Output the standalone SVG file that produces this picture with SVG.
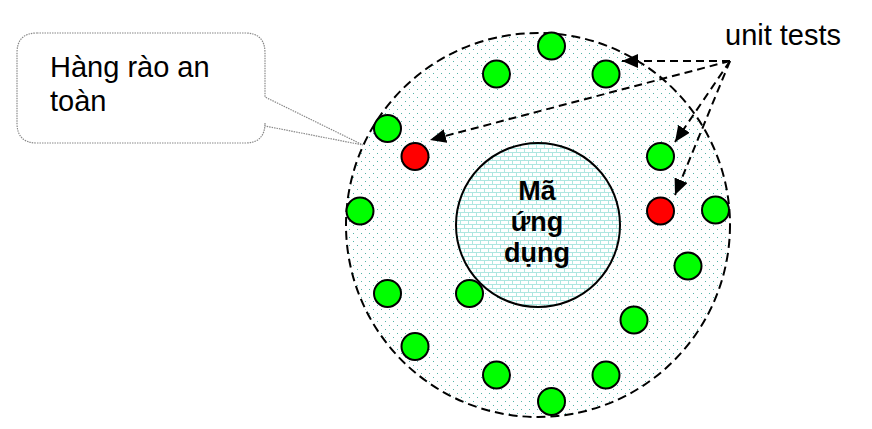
<svg xmlns="http://www.w3.org/2000/svg" width="872" height="429" viewBox="0 0 872 429">
<defs>
<pattern id="dots" width="8" height="8" patternUnits="userSpaceOnUse">
<rect width="8" height="8" fill="#ffffff"/>
<rect x="1" y="1" width="1" height="1" fill="#55b3a8"/>
<rect x="5" y="5" width="1" height="1" fill="#55b3a8"/>
</pattern>
<pattern id="bricks" width="8" height="8" patternUnits="userSpaceOnUse">
<rect width="8" height="8" fill="#ffffff"/>
<path d="M0 0.5H8M0 4.5H8M0.5 0.5V4.5M4.5 4.5V8" stroke="#aee6e0" stroke-width="1" fill="none"/>
</pattern>
<marker id="ah2" viewBox="0 0 10 10" refX="10" refY="5" markerWidth="16" markerHeight="14" markerUnits="userSpaceOnUse" orient="auto" preserveAspectRatio="none">
<path d="M0 0L10 5L0 10Z" fill="#000"/>
</marker>
</defs>
<style>
.t{stroke:#000;stroke-width:2}
.g{fill:#00ff00}
.r{fill:#ff0000}
.lbl{font-family:"Liberation Sans",Arial,sans-serif;font-size:29px;fill:#000}
.in{font-family:"Liberation Sans",Arial,sans-serif;font-size:27px;font-weight:bold;fill:#000;text-anchor:middle}
.conn{stroke:#000;stroke-width:2;stroke-dasharray:8 5;fill:none}
</style>
<rect width="872" height="429" fill="#fff"/>
<g id="fence">
<circle cx="538" cy="225" r="192" fill="url(#dots)" stroke="#000" stroke-width="2" stroke-dasharray="9 5"/>
</g>
<g id="app-code">
<circle cx="538" cy="225" r="82" fill="url(#bricks)" stroke="#000" stroke-width="2"/>
<text class="in" x="537" y="200">Mã</text>
<text class="in" x="537" y="231">ứng</text>
<text class="in" x="537" y="262">dụng</text>
</g>
<g id="tests">
<circle class="t g" cx="551.5" cy="46" r="13.5"/>
<circle class="t g" cx="496.5" cy="74" r="13.5"/>
<circle class="t g" cx="606" cy="74" r="13.5"/>
<circle class="t g" cx="387.5" cy="128.5" r="13.5"/>
<circle class="t r" cx="415" cy="156.5" r="13.5"/>
<circle class="t g" cx="660.5" cy="156.5" r="13.5"/>
<circle class="t g" cx="360" cy="211" r="13.5"/>
<circle class="t r" cx="660.5" cy="211" r="13.5"/>
<circle class="t g" cx="715.5" cy="210" r="13.5"/>
<circle class="t g" cx="688" cy="266" r="13.5"/>
<circle class="t g" cx="387.5" cy="293.5" r="13.5"/>
<circle class="t g" cx="469.5" cy="293.5" r="13.5"/>
<circle class="t g" cx="634" cy="320" r="13.5"/>
<circle class="t g" cx="415" cy="346.5" r="13.5"/>
<circle class="t g" cx="496.5" cy="375" r="13.5"/>
<circle class="t g" cx="606" cy="375" r="13.5"/>
<circle class="t g" cx="551.5" cy="401.5" r="13.5"/>
</g>
<g id="callout">
<path d="M37 33H245Q265 33 265 53V97L363 145L265 126V123Q265 143 245 143H37Q17 143 17 123V53Q17 33 37 33Z" fill="#fff" stroke="#888" stroke-width="1.2" stroke-dasharray="1.5 1"/>
<text class="lbl" x="50" y="77">Hàng rào an</text>
<text class="lbl" x="50" y="111">toàn</text>
</g>
<g id="unit-tests-label">
<text class="lbl" x="725" y="45">unit tests</text>
</g>
<g id="connectors">
<line class="conn" x1="730" y1="61" x2="622" y2="61" marker-end="url(#ah2)"/>
<line class="conn" x1="730" y1="61" x2="430" y2="140" marker-end="url(#ah2)"/>
<line class="conn" x1="730" y1="61" x2="675" y2="142" marker-end="url(#ah2)"/>
<line class="conn" x1="730" y1="61" x2="675" y2="195" marker-end="url(#ah2)"/>
</g>
</svg>
